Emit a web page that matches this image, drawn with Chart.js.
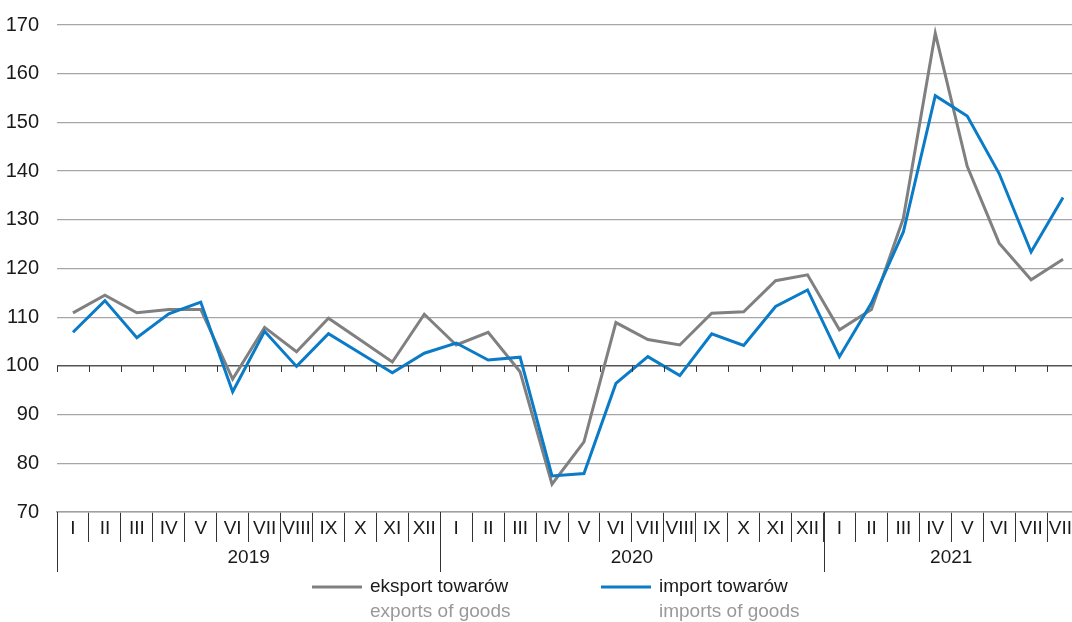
<!DOCTYPE html>
<html lang="pl">
<head>
<meta charset="utf-8">
<title>Eksport i import towarów</title>
<script src="https://cdn.jsdelivr.net/npm/chart.js@4.4.1/dist/chart.umd.min.js"></script>
<style>
    html, body {
        margin: 0;
        padding: 0;
        background: #ffffff;
        overflow: hidden;
    }
    #chart {
        display: block;
    }
</style>
</head>
<body>
<canvas id="chart" width="1079" height="622"></canvas>
<script>
// Month labels (roman numerals), grouped by year
const monthNames = ["I", "II", "III", "IV", "V", "VI", "VII", "VIII", "IX", "X", "XI", "XII"];
const years = ["2019", "2020", "2021"];
const monthsPerYear = [12, 12, 8];
const months = years.flatMap((y, i) => monthNames.slice(0, monthsPerYear[i]));

// Series values
const exportValues = [
    110.9, 114.5, 110.9, 111.6, 111.6, 97.3, 107.9, 102.9, 109.8, 105.3, 100.8, 110.6,
    104.3, 106.9, 98.8, 75.7, 84.4, 108.9, 105.4, 104.3, 110.8, 111.1, 117.5, 118.7,
    107.4, 111.6, 130.3, 168.3, 141.0, 125.2, 117.7, 121.9
];
const importValues = [
    106.9, 113.4, 105.8, 110.7, 113.1, 94.7, 107.1, 99.9, 106.6, 102.6, 98.6, 102.6,
    104.7, 101.2, 101.8, 77.4, 77.9, 96.4, 101.9, 98.0, 106.6, 104.2, 112.2, 115.6,
    101.9, 112.9, 127.5, 155.5, 151.3, 139.5, 123.4, 134.6
];

// Y axis range
const yMin = 70;
const yMax = 170;
const yStep = 10;
const baseLine = 100;

// Legend texts: Polish label + English subtitle
const seriesLabels = ["eksport towarów", "import towarów"];
const seriesSubLabels = ["exports of goods", "imports of goods"];

const FONT = "'Liberation Sans', 'Arial', sans-serif";
const GREY = "#808080";
const BLUE = "#0a7bc6";

// Year row, baseline ticks and two-line legend
const decorPlugin = {
    id: "decor",
    afterDraw(chart) {
        const ctx = chart.ctx;
        const x = chart.scales.x;
        const y = chart.scales.y;
        const area = chart.chartArea;
        const half = (x.getPixelForValue(1) - x.getPixelForValue(0)) / 2;

        ctx.save();

        // small ticks hanging under the 100 line
        const yBase = y.getPixelForValue(baseLine);
        ctx.strokeStyle = "#333333";
        ctx.lineWidth = 1;
        for (let i = 0; i <= months.length; i++) {
            const px = Math.round(x.getPixelForValue(i) - half) + 0.5;
            ctx.beginPath();
            ctx.moveTo(px, yBase);
            ctx.lineTo(px, yBase + 6);
            ctx.stroke();
        }

        // year separators and labels
        ctx.font = "19px " + FONT;
        ctx.fillStyle = "#1a1a1a";
        ctx.textAlign = "center";
        ctx.textBaseline = "middle";
        let start = 0;
        years.forEach((year, i) => {
            const left = x.getPixelForValue(start) - half;
            const right = x.getPixelForValue(start + monthsPerYear[i] - 1) + half;
            ctx.beginPath();
            ctx.moveTo(Math.round(left) + 0.5, area.bottom);
            ctx.lineTo(Math.round(left) + 0.5, area.bottom + 60);
            ctx.stroke();
            ctx.fillText(year, (left + right) / 2, area.bottom + 46);
            start += monthsPerYear[i];
        });

        // legend
        const legendX = [312, 601];
        const legendY = area.bottom + 75;
        chart.data.datasets.forEach((ds, i) => {
            ctx.strokeStyle = ds.borderColor;
            ctx.lineWidth = 3;
            ctx.beginPath();
            ctx.moveTo(legendX[i], legendY);
            ctx.lineTo(legendX[i] + 50, legendY);
            ctx.stroke();

            ctx.textAlign = "left";
            ctx.fillStyle = "#1a1a1a";
            ctx.fillText(seriesLabels[i], legendX[i] + 58, legendY);
            ctx.fillStyle = "#999999";
            ctx.fillText(seriesSubLabels[i], legendX[i] + 58, legendY + 25);
        });

        ctx.restore();
    }
};

new Chart(document.getElementById("chart"), {
    type: "line",
    data: {
        labels: months,
        datasets: [
            {
                label: seriesLabels[0],
                data: exportValues,
                borderColor: GREY,
                borderWidth: 3,
                pointRadius: 0,
                tension: 0,
                order: 1,
            },
            {
                label: seriesLabels[1],
                data: importValues,
                borderColor: BLUE,
                borderWidth: 3,
                pointRadius: 0,
                tension: 0,
                order: 0,
            },
        ],
    },
    options: {
        responsive: false,
        animation: false,
        layout: {
            padding: { top: 25, left: 0, right: 0, bottom: 0 },
        },
        plugins: {
            legend: { display: false },
            tooltip: { enabled: false },
        },
        scales: {
            x: {
                offset: true,
                grid: {
                    offset: true,
                    drawOnChartArea: false,
                    drawTicks: true,
                    tickLength: 30,
                    color: "#333333",
                    lineWidth: 1,
                },
                border: { display: true, color: "#a0a0a0", width: 1.5 },
                ticks: {
                    autoSkip: false,
                    maxRotation: 0,
                    padding: -25,
                    color: "#1a1a1a",
                    font: { family: FONT, size: 19 },
                },
                afterFit(scale) {
                    scale.height = 110;
                },
            },
            y: {
                min: yMin,
                max: yMax,
                ticks: {
                    stepSize: yStep,
                    padding: 18,
                    color: "#1a1a1a",
                    font: { family: FONT, size: 20 },
                },
                grid: {
                    drawTicks: false,
                    color: (c) => (c.tick && c.tick.value === baseLine ? "#555555" : "#a6a6a6"),
                    lineWidth: (c) => (c.tick && c.tick.value === baseLine ? 1.5 : 1.3),
                },
                border: { display: false },
                afterFit(scale) {
                    scale.width = 57;
                    // don't let label padding push the plot down
                    scale.paddingTop = 0;
                    scale.paddingBottom = 0;
                },
            },
        },
    },
    plugins: [decorPlugin],
});
</script>
</body>
</html>
